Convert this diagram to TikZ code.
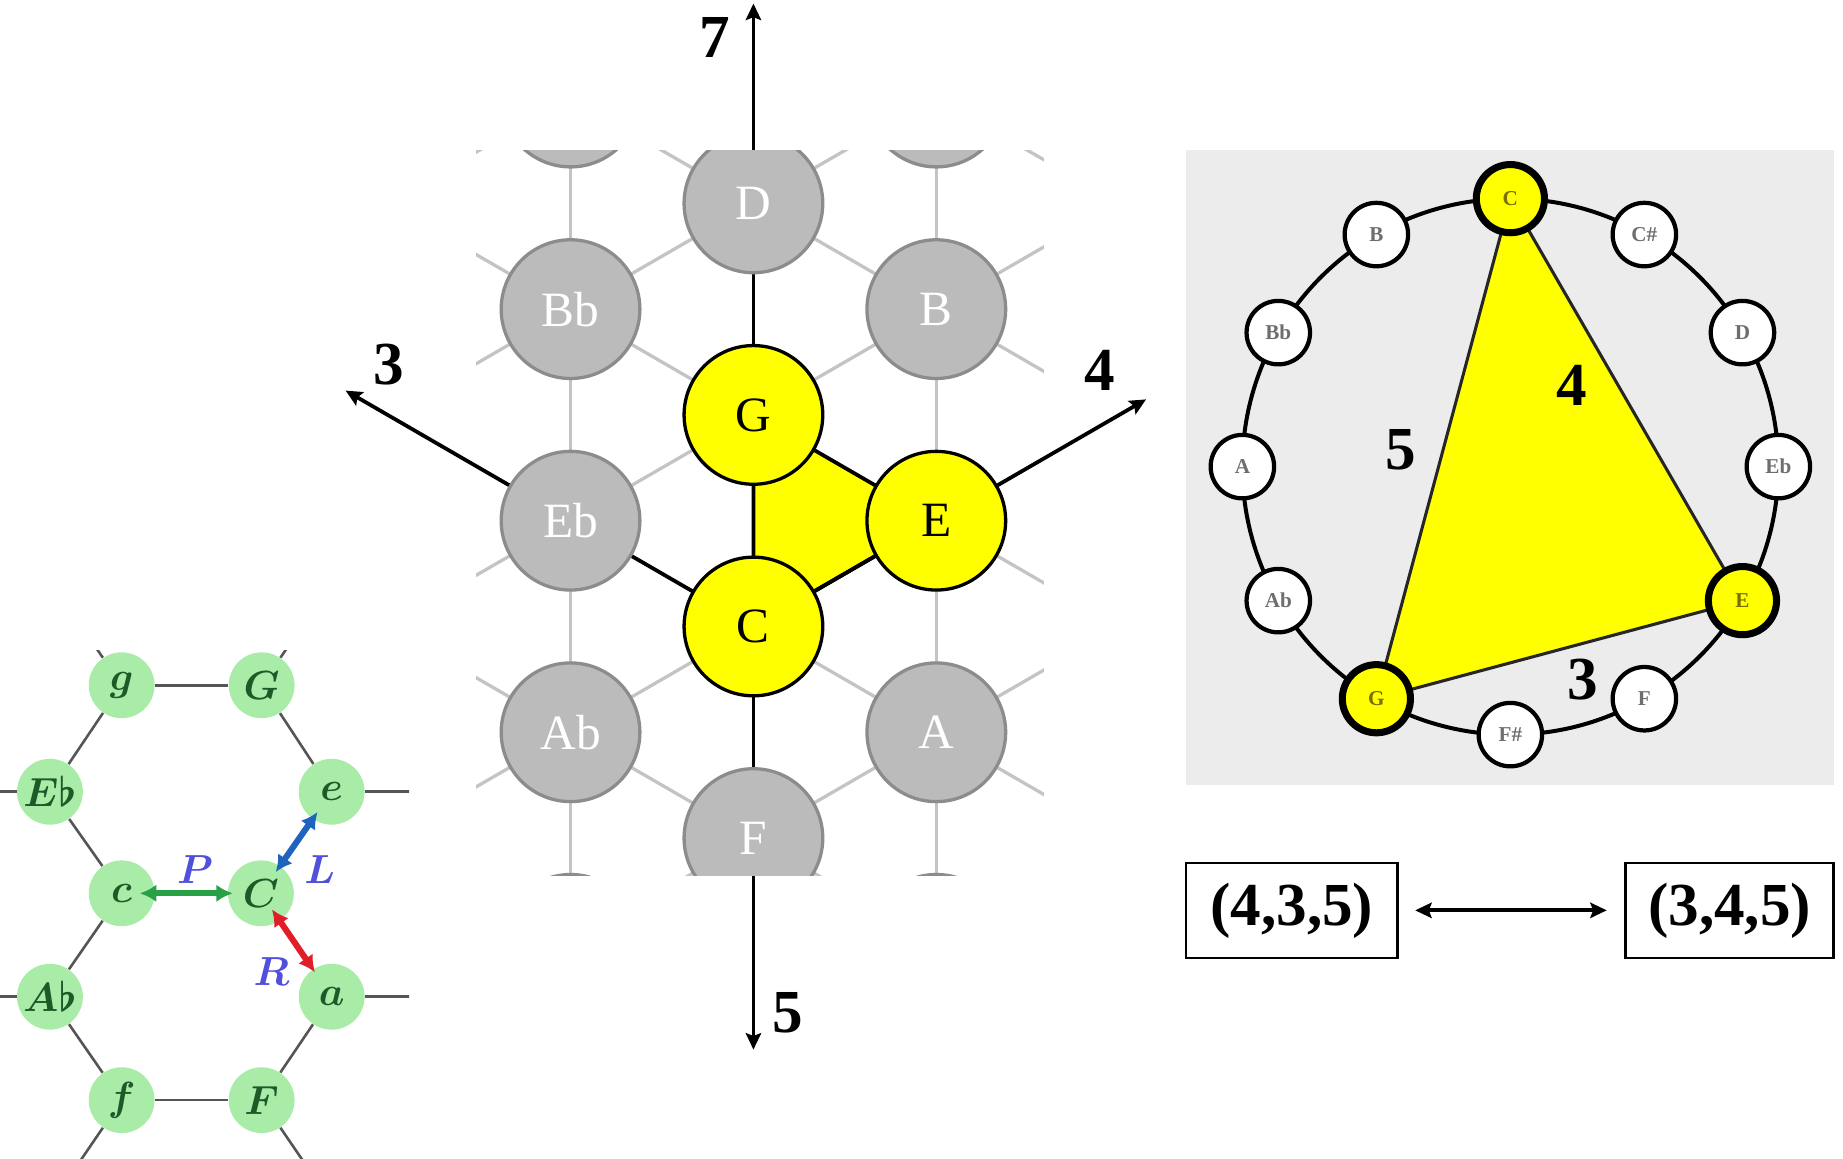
\documentclass[tikz,border=0pt]{standalone}
\usepackage{bm}
\usepackage{fontspec}
\setmainfont{Liberation Serif}
\usetikzlibrary{arrows.meta,calc}
\pgfdeclarelayer{back}
\pgfsetlayers{back,main}

\definecolor{latfill}{RGB}{187,187,187}
\definecolor{latrim}{RGB}{140,140,140}
\definecolor{latline}{RGB}{196,196,196}
\definecolor{tonyellow}{RGB}{255,255,0}
\definecolor{panelbg}{RGB}{236,236,236}
\definecolor{hexfill}{RGB}{168,236,168}
\definecolor{hextext}{RGB}{30,90,40}
\definecolor{hexgray}{RGB}{85,85,85}
\definecolor{pgreen}{RGB}{40,160,70}
\definecolor{lblue}{RGB}{30,100,190}
\definecolor{rred}{RGB}{225,30,40}
\definecolor{oplabel}{RGB}{80,80,220}
\definecolor{ringtext}{RGB}{110,110,110}
\definecolor{ringchordtext}{RGB}{120,110,0}

\begin{document}
\begin{tikzpicture}[x=0.5pt,y=-0.5pt,
  latnode/.style={circle,draw=latrim,line width=1.4pt,fill=latfill,minimum size=59pt,
    inner sep=0pt,text=white,font=\fontsize{21}{21}\selectfont},
  chordnode/.style={latnode,draw=black,fill=tonyellow,text=black},
  latedge/.style={draw=latline,line width=1.4pt},
  axisline/.style={line width=1.6pt,-{Stealth[length=7pt,width=6.5pt,inset=1.2pt]}},
  chordedge/.style={draw=black,line width=1.6pt},
  numlab/.style={font=\fontsize{26}{26}\selectfont\bfseries,inner sep=0pt},
  hexnode/.style={circle,fill=hexfill,minimum size=28pt,inner sep=0pt,text=hextext,
    font=\fontsize{16}{16}\selectfont},
  hexedge/.style={draw=hexgray,line width=1.1pt},
  oparrow/.style={line width=2.6pt,{Latex[length=7pt,width=7.5pt]}-{Latex[length=7pt,width=7.5pt]}},
  oplab/.style={text=oplabel,font=\fontsize{16}{16}\selectfont,inner sep=0pt},
  ringnode/.style={circle,draw=black,line width=1.8pt,fill=white,minimum size=27pt,
    inner sep=0pt,text=ringtext,font=\fontsize{9}{9}\selectfont\bfseries},
  ringchord/.style={ringnode,fill=tonyellow,line width=3pt,minimum size=29pt,text=ringchordtext},
  tuplebox/.style={draw=black,line width=1pt,minimum width=90pt,minimum height=40.5pt,
    inner sep=0pt,font=\fontsize{26}{26}\selectfont\bfseries}
]
\useasboundingbox (0,0) rectangle (1568,986);

% ---------------- Tonnetz lattice (middle) ----------------
\foreach \i in {-2,...,2}{
  \foreach \j in {-5,...,7}{
    \coordinate (p\i x\j) at ({641+155.6*\i},{353+90*\j});
  }
}

\begin{scope}
  \clip (405,128) rectangle (888,745);
  \node[latnode] (mFtop)  at (p-1x-3) {};
  \node[latnode] (mFstop) at (p1x-3)  {};
  \node[latnode] (mD)  at (p0x-2) {D};
  \node[latnode] (mBb) at (p-1x-1) {Bb};
  \node[latnode] (mB)  at (p1x-1) {B};
  \node[latnode] (mEb) at (p-1x1) {Eb};
  \node[latnode] (mAb) at (p-1x3) {Ab};
  \node[latnode] (mA)  at (p1x3)  {A};
  \node[latnode] (mF)  at (p0x4)  {F};
  \node[latnode] (mDb) at (p-1x5) {};
  \node[latnode] (mDd) at (p1x5)  {};
\end{scope}

\node[chordnode] (mG) at (p0x0) {G};
\node[chordnode] (mE) at (p1x1) {E};
\node[chordnode] (mC) at (p0x2) {C};

% axis end points
\coordinate (tip7) at (641,3);
\coordinate (tip5) at (641,893);
\coordinate (tip3) at ($(p0x2)!2.23!(p-1x1)$);
\coordinate (tip4) at ($(p0x2)!2.147!(p1x1)$);

\begin{pgfonlayer}{back}
  \begin{scope}
    \clip (405,128) rectangle (888,745);
    \foreach \i in {-2,...,2}{
      \foreach \j in {-5,...,7}{
        \pgfmathtruncatemacro\parity{mod(\i+\j+20,2)}
        \ifnum\parity=0
          \pgfmathtruncatemacro\jup{\j+2}
          \pgfmathtruncatemacro\inext{\i+1}
          \pgfmathtruncatemacro\jdn{\j+1}
          \pgfmathtruncatemacro\jun{\j-1}
          \ifnum\jup<8 \draw[latedge] (p\i x\j) -- (p\i x\jup); \fi
          \ifnum\inext<3
            \ifnum\jdn<8 \draw[latedge] (p\i x\j) -- (p\inext x\jdn); \fi
            \ifnum\jun>-6 \draw[latedge] (p\i x\j) -- (p\inext x\jun); \fi
          \fi
        \fi
      }
    }
  \end{scope}
  % major triad triangle
  \fill[tonyellow] (mG.center) -- (mE.center) -- (mC.center) -- cycle;
  \draw[chordedge] (mG.center) -- (mE.center) -- (mC.center) -- cycle;
  % interval axes from C
  \draw[axisline] (mC.center) -- (tip7);
  \draw[axisline] (mC.center) -- (tip5);
  \draw[axisline] (mC.center) -- (tip3);
  \draw[axisline] (mC.center) -- (tip4);
\end{pgfonlayer}

\node[numlab] (lab7) at (608,32)  {7};
\node[numlab] (lab5) at (670,862) {5};
\node[numlab] (lab3) at (331,310) {3};
\node[numlab] (lab4) at (936,315) {4};

% ---------------- Neo-Riemannian hexagons (left) ----------------
\begin{scope}
  \clip (0,553) rectangle (348,986);
  \node[hexnode] (hg)  at (103.5,583) {$\bm{g}$};
  \node[hexnode] (hG)  at (222.6,583) {$\bm{G}$};
  \node[hexnode] (hEb) at (42.5,673.6) {$\bm{E\flat}$};
  \node[hexnode] (he)  at (282.2,673.6) {$\bm{e}$};
  \node[hexnode] (hc)  at (103.5,760) {$\bm{c}$};
  \node[hexnode] (hC)  at (222,760) {$\bm{C}$};
  \node[hexnode] (hAb) at (42.5,848) {$\bm{A\flat}$};
  \node[hexnode] (ha)  at (282.2,848) {$\bm{a}$};
  \node[hexnode] (hf)  at (103.5,936) {$\bm{f}$};
  \node[hexnode] (hF)  at (222.6,936) {$\bm{F}$};
  \coordinate (hgout)  at (43.5,495);
  \coordinate (hGout)  at (282.6,495);
  \coordinate (hEbout) at (-77,673.6);
  \coordinate (heout)  at (402,673.6);
  \coordinate (hAbout) at (-77,848);
  \coordinate (haout)  at (402,848);
  \coordinate (hfout)  at (43.5,1024);
  \coordinate (hFout)  at (282.6,1024);
  \draw[hexedge] (hg) -- (hG);
  \draw[hexedge] (hg) -- (hEb);
  \draw[hexedge] (hG) -- (he);
  \draw[hexedge] (hEb) -- (hc);
  \draw[hexedge] (hc) -- (hAb);
  \draw[hexedge] (hAb) -- (hf);
  \draw[hexedge] (hf) -- (hF);
  \draw[hexedge] (hF) -- (ha);
  \draw[hexedge] (hg) -- (hgout);
  \draw[hexedge] (hG) -- (hGout);
  \draw[hexedge] (hEb) -- (hEbout);
  \draw[hexedge] (he) -- (heout);
  \draw[hexedge] (hAb) -- (hAbout);
  \draw[hexedge] (ha) -- (haout);
  \draw[hexedge] (hf) -- (hfout);
  \draw[hexedge] (hF) -- (hFout);
\end{scope}
\draw[oparrow,draw=pgreen,fill=pgreen,shorten <=7.75pt,shorten >=12pt] (hc.center) -- (hC.center);
\draw[oparrow,draw=lblue,fill=lblue,shorten <=11pt,shorten >=10.5pt] (hC.center) -- (he.center);
\draw[oparrow,draw=rred,fill=rred,shorten <=8.3pt,shorten >=12.6pt] (hC.center) -- (ha.center);
\node[oplab] (lP) at (166,740) {$\bm{P}$};
\node[oplab] (lL) at (272,740) {$\bm{L}$};
\node[oplab] (lR) at (231,827) {$\bm{R}$};

% ---------------- Chromatic circle (right) ----------------
\fill[panelbg] (1009,128) rectangle (1560,668);
\coordinate (rcen) at (1285,397);
\draw[black,line width=1.7pt] (rcen) circle [radius=228];
\foreach \k/\nm in {0/C,1/Cs,2/D,3/Eb,4/E,5/F,6/Fs,7/G,8/Ab,9/A,10/Bb,11/B}{
  \pgfmathsetmacro\ang{90-30*\k}
  \coordinate (rp\nm) at ({1285+228*cos(\ang)},{397-228*sin(\ang)});
}
\fill[tonyellow] (rpC) -- (rpE) -- (rpG) -- cycle;
\draw[black!85,line width=1.3pt,line join=round] (rpC) -- (rpE) -- (rpG) -- cycle;
\node[ringnode] (rCs) at (rpCs) {C\#};
\node[ringnode] (rD)  at (rpD)  {D};
\node[ringnode] (rEb) at (rpEb) {Eb};
\node[ringnode] (rF)  at (rpF)  {F};
\node[ringnode] (rFs) at (rpFs) {F\#};
\node[ringnode] (rAb) at (rpAb) {Ab};
\node[ringnode] (rA)  at (rpA)  {A};
\node[ringnode] (rBb) at (rpBb) {Bb};
\node[ringnode] (rB)  at (rpB)  {B};
\node[ringchord] (rC) at (rpC) {C};
\node[ringchord] (rE) at (rpE) {E};
\node[ringchord] (rG) at (rpG) {G};
\node[numlab] (rl4) at (1337,328) {4};
\node[numlab] (rl5) at (1192,383) {5};
\node[numlab] (rl3) at (1347,578) {3};

% ---------------- interval vectors ----------------
\node[tuplebox,minimum width=90pt] (vecA) at (1099,774.5) {(4,3,5)};
\node[tuplebox,minimum width=88.5pt] (vecB) at (1471.5,774.5) {(3,4,5)};
\draw[line width=1.6pt,{Stealth[length=7pt,width=6.5pt,inset=1.2pt]}-{Stealth[length=7pt,width=6.5pt,inset=1.2pt]},
  shorten <=7pt,shorten >=7.5pt] (vecA) -- (vecB);
\end{tikzpicture}
\end{document}
